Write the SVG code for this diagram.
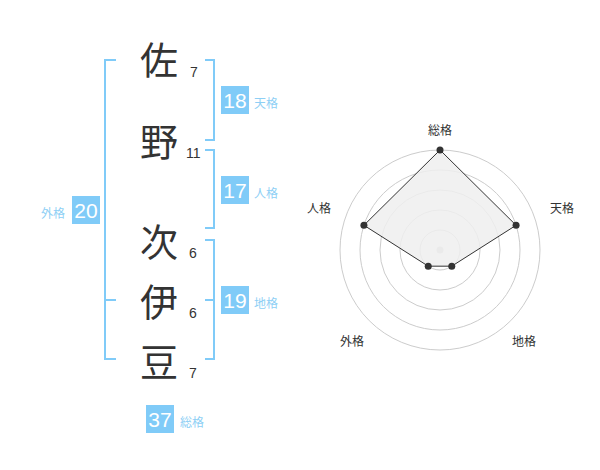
<svg xmlns="http://www.w3.org/2000/svg" width="600" height="470" viewBox="0 0 600 470">
<style>
.ch{font-family:"Noto Sans CJK JP","Noto Sans CJK SC",sans-serif;font-size:38px;fill:#333;text-anchor:middle}
.num{font-family:"Liberation Sans",Arial,sans-serif;font-size:14px;fill:#333}
.bx{fill:#80cbf8}
.bt{font-family:"Liberation Sans",Arial,sans-serif;font-size:21px;fill:#fff;text-anchor:middle}
.lb{font-family:"Liberation Sans","Noto Sans CJK JP",sans-serif;font-size:12px;fill:#8ecff5}
.br{fill:none;stroke:#80cbf8;stroke-width:2}
.ring{fill:none;stroke:#cccccc;stroke-width:1}
.rl{font-family:"Liberation Sans","Noto Sans CJK JP",sans-serif;font-size:12px;fill:#333;text-anchor:middle}
.dot{fill:#333}
</style>
<rect width="600" height="470" fill="#fff"/>
<g id="connectors">
<path class="br" d="M116,60 H105 V359 H116 M105,300 H116"/>
<path class="br" d="M205,60 H214 V140 H205"/>
<path class="br" d="M205,150 H214 V228 H205"/>
<path class="br" d="M205,240 H214 V359 H205 M205,300 H214"/>
</g>
<g id="char1"><text class="ch" x="159" y="73.5">佐</text><text class="num" x="190" y="77">7</text></g>
<g id="char2"><text class="ch" x="159" y="155.5">野</text><text class="num" x="186" y="158">11</text></g>
<g id="char3"><text class="ch" x="159" y="255.5">次</text><text class="num" x="189" y="258">6</text></g>
<g id="char4"><text class="ch" x="159" y="315.5">伊</text><text class="num" x="189" y="318">6</text></g>
<g id="char5"><text class="ch" x="159" y="375.5">豆</text><text class="num" x="189" y="378">7</text></g>
<g id="tenkaku"><rect class="bx" x="221" y="86" width="28" height="28"/><text class="bt" x="235" y="107.5">18</text><text class="lb" x="254" y="108">天格</text></g>
<g id="jinkaku"><rect class="bx" x="221" y="176" width="28" height="28"/><text class="bt" x="235" y="197.5">17</text><text class="lb" x="254" y="198">人格</text></g>
<g id="chikaku"><rect class="bx" x="221" y="286" width="28" height="28"/><text class="bt" x="235" y="307.5">19</text><text class="lb" x="254" y="308">地格</text></g>
<g id="gaikaku"><rect class="bx" x="72" y="196" width="28" height="28"/><text class="bt" x="86" y="217.5">20</text><text class="lb" x="65" y="218" text-anchor="end">外格</text></g>
<g id="soukaku"><rect class="bx" x="146" y="405" width="28" height="28"/><text class="bt" x="160" y="426.5">37</text><text class="lb" x="180" y="427">総格</text></g>
<g id="radar">
<circle class="ring" cx="440" cy="250" r="20"/>
<circle class="ring" cx="440" cy="250" r="40"/>
<circle class="ring" cx="440" cy="250" r="60"/>
<circle class="ring" cx="440" cy="250" r="80"/>
<circle class="ring" cx="440" cy="250" r="100"/>
<circle cx="440" cy="250" r="3.5" fill="#cccccc"/>
<polygon points="440,150 516.08,225.28 451.76,266.18 428.24,266.18 363.92,225.28" fill="#efefef" fill-opacity="0.85" stroke="#333" stroke-width="1"/>
<circle class="dot" cx="440" cy="150" r="3.5"/>
<circle class="dot" cx="516.08" cy="225.28" r="3.5"/>
<circle class="dot" cx="451.76" cy="266.18" r="3.5"/>
<circle class="dot" cx="428.24" cy="266.18" r="3.5"/>
<circle class="dot" cx="363.92" cy="225.28" r="3.5"/>
<text class="rl" x="440" y="135">総格</text>
<text class="rl" x="562" y="213">天格</text>
<text class="rl" x="319" y="213">人格</text>
<text class="rl" x="352" y="346">外格</text>
<text class="rl" x="524" y="346">地格</text>
</g>
</svg>
